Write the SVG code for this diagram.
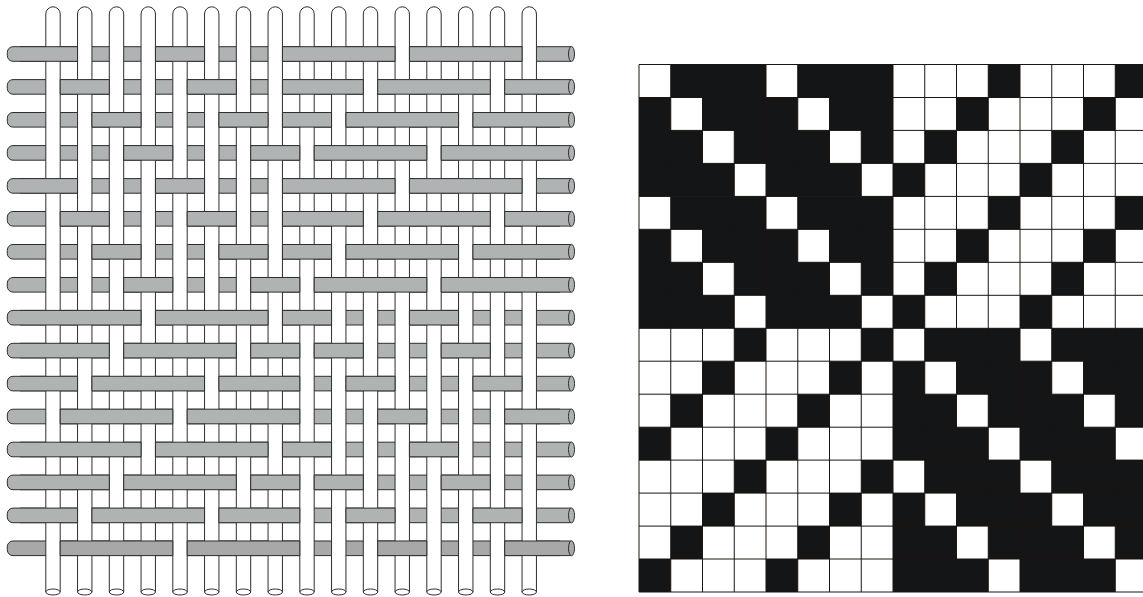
<svg xmlns="http://www.w3.org/2000/svg" width="1143" height="597" viewBox="0 0 1143 597">
<defs>
<style>
.weft{fill:#b0b3b3;stroke:#2e2e2e;stroke-width:1}
.last{fill:#a8a8a6}
.warp{fill:#fff;stroke:#2e2e2e;stroke-width:1}
.k{fill:#141516}
.g{stroke:#1a1511;stroke-width:1;fill:none}
</style>
<g id="rod"><path d="M571 -7.3H13A5.7 5.7 0 0 0 7.3 -1.6V1.6A5.7 5.7 0 0 0 13 7.3H571"/><ellipse cx="571.5" cy="0" rx="3" ry="7.5"/></g>
<g id="thread"><path d="M-7.2 592V14A7.2 7.2 0 0 1 7.2 14V592"/><ellipse cx="0" cy="592" rx="7.2" ry="3"/></g>
<path id="p0" d="M20 -7.3H77.55V7.3H20M155.45 -7.3H204.55V7.3H155.45ZM282.45 -7.3H395.05V7.3H282.45ZM409.45 -7.3H522.05V7.3H409.45Z"/>
<path id="p1" d="M60.2 -7.3H109.3V7.3H60.2ZM187.2 -7.3H236.3V7.3H187.2ZM282.45 -7.3H363.3V7.3H282.45ZM377.7 -7.3H490.3V7.3H377.7ZM560 -7.3H504.7V7.3H560"/>
<path id="p2" d="M91.95 -7.3H141.05V7.3H91.95ZM218.95 -7.3H268.05V7.3H218.95ZM282.45 -7.3H331.55V7.3H282.45ZM345.95 -7.3H458.55V7.3H345.95ZM560 -7.3H472.95V7.3H560"/>
<path id="p3" d="M123.7 -7.3H172.8V7.3H123.7ZM250.7 -7.3H299.8V7.3H250.7ZM314.2 -7.3H426.8V7.3H314.2ZM560 -7.3H441.2V7.3H560"/>
<path id="p8" d="M20 -7.3H141.05V7.3H20M155.45 -7.3H268.05V7.3H155.45ZM282.45 -7.3H331.55V7.3H282.45ZM409.45 -7.3H458.55V7.3H409.45Z"/>
<path id="p9" d="M20 -7.3H109.3V7.3H20M123.7 -7.3H236.3V7.3H123.7ZM250.7 -7.3H299.8V7.3H250.7ZM314.2 -7.3H363.3V7.3H314.2ZM441.2 -7.3H490.3V7.3H441.2Z"/>
<path id="p10" d="M20 -7.3H77.55V7.3H20M91.95 -7.3H204.55V7.3H91.95ZM218.95 -7.3H299.8V7.3H218.95ZM345.95 -7.3H395.05V7.3H345.95ZM472.95 -7.3H522.05V7.3H472.95Z"/>
<path id="p11" d="M60.2 -7.3H172.8V7.3H60.2ZM187.2 -7.3H299.8V7.3H187.2ZM377.7 -7.3H426.8V7.3H377.7ZM560 -7.3H504.7V7.3H560"/>
<path id="blockA" d="M670.75 64.5h95.25v33h-95.25zM797.75 64.5h95.25v33h-95.25zM988.25 64.5h31.75v33h-31.75zM1115.25 64.5h31.75v33h-31.75zM639 97.5h31.75v33H639zM702.5 97.5h95.25v33h-95.25zM829.5 97.5h63.5v33h-63.5zM956.5 97.5h31.75v33h-31.75zM1083.5 97.5h31.75v33h-31.75zM639 130.4h63.5v33H639zM734.25 130.4h95.25v33h-95.25zM861.25 130.4h31.75v33h-31.75zM924.75 130.4h31.75v33h-31.75zM1051.75 130.4h31.75v33h-31.75zM639 163.4h95.25v33H639zM766 163.4h95.25v33H766zM893 163.4h31.75v33H893zM1020 163.4h31.75v33H1020z"/>
<path id="blockB" d="M734.25 328.3h31.75v33h-31.75zM861.25 328.3h31.75v33h-31.75zM924.75 328.3h95.25v33h-95.25zM1051.75 328.3h95.25v33h-95.25zM702.5 361.2h31.75v33H702.5zM829.5 361.2h31.75v33H829.5zM893 361.2h31.75v33H893zM956.5 361.2h95.25v33H956.5zM1083.5 361.2h63.5v33h-63.5zM670.75 394.2h31.75v33h-31.75zM797.75 394.2h31.75v33h-31.75zM893 394.2h63.5v33H893zM988.25 394.2h95.25v33h-95.25zM1115.25 394.2h31.75v33h-31.75zM639 427.2h31.75v33H639zM766 427.2h31.75v33H766zM893 427.2h95.25v33H893zM1020 427.2h95.25v33H1020z"/>
</defs>
<rect width="1143" height="597" fill="#fff"/>
<g id="weave">
<g id="weft-under" class="weft">
<use href="#rod" y="54"/><use href="#rod" y="86.9"/><use href="#rod" y="119.8"/><use href="#rod" y="152.9"/>
<use href="#rod" y="185.9"/><use href="#rod" y="218.8"/><use href="#rod" y="251.8"/><use href="#rod" y="284.8"/>
<use href="#rod" y="317.7"/><use href="#rod" y="350.6"/><use href="#rod" y="383.6"/><use href="#rod" y="416.5"/>
<use href="#rod" y="449.5"/><use href="#rod" y="482.4"/><use href="#rod" y="515.4"/><use href="#rod" y="548.3" class="last"/>
</g>
<g id="warp" class="warp">
<use href="#thread" x="53"/><use href="#thread" x="84.75"/><use href="#thread" x="116.5"/><use href="#thread" x="148.25"/>
<use href="#thread" x="180"/><use href="#thread" x="211.75"/><use href="#thread" x="243.5"/><use href="#thread" x="275.25"/>
<use href="#thread" x="307"/><use href="#thread" x="338.75"/><use href="#thread" x="370.5"/><use href="#thread" x="402.25"/>
<use href="#thread" x="434"/><use href="#thread" x="465.75"/><use href="#thread" x="497.5"/><use href="#thread" x="529.25"/>
</g>
<g id="weft-over" class="weft">
<use href="#p0" y="54"/><use href="#p1" y="86.9"/><use href="#p2" y="119.8"/><use href="#p3" y="152.9"/>
<use href="#p0" y="185.9"/><use href="#p1" y="218.8"/><use href="#p2" y="251.8"/><use href="#p3" y="284.8"/>
<use href="#p8" y="317.7"/><use href="#p9" y="350.6"/><use href="#p10" y="383.6"/><use href="#p11" y="416.5"/>
<use href="#p8" y="449.5"/><use href="#p9" y="482.4"/><use href="#p10" y="515.4"/><use href="#p11" y="548.3" class="last"/>
</g>
</g>
<g id="draft">
<use href="#blockA" class="k"/><use href="#blockA" class="k" y="131.9"/>
<use href="#blockB" class="k"/><use href="#blockB" class="k" y="131.8"/>
<path class="g" d="M639 64.5V592M670.75 64.5V592M702.5 64.5V592M734.25 64.5V592M766 64.5V592M797.75 64.5V592M829.5 64.5V592M861.25 64.5V592M893 64.5V592M924.75 64.5V592M956.5 64.5V592M988.25 64.5V592M1020 64.5V592M1051.75 64.5V592M1083.5 64.5V592M1115.25 64.5V592"/>
<path class="g" d="M639 64.5H1143M639 97.5H1143M639 130.4H1143M639 163.4H1143M639 196.4H1143M639 229.3H1143M639 262.3H1143M639 295.3H1143M639 328.3H1143M639 361.2H1143M639 394.2H1143M639 427.2H1143M639 460.1H1143M639 493.1H1143M639 526.1H1143M639 559H1143M639 592H1143"/>
</g>
</svg>
